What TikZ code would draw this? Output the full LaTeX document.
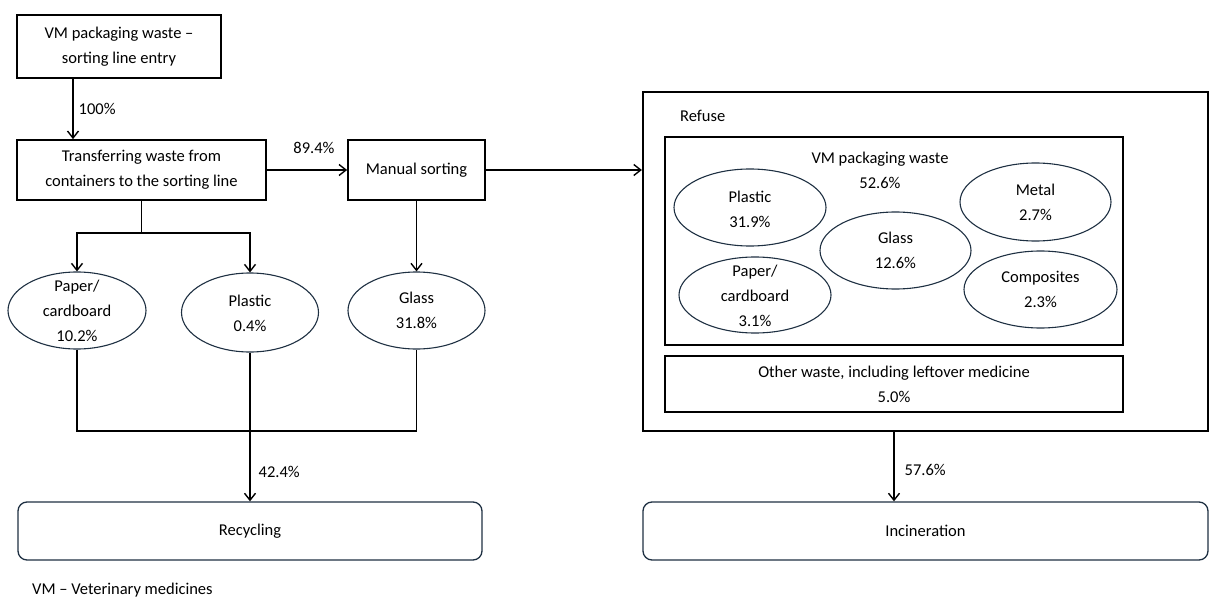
\documentclass[tikz,border=0pt]{standalone}
\usepackage{fontspec}
\setmainfont{Carlito}
\usetikzlibrary{arrows.meta,shapes.geometric,calc}
\definecolor{edgec}{RGB}{30,48,66}
\begin{document}
\begin{tikzpicture}[x=1pt,y=-1pt,
  every node/.style={font=\fontsize{16.5}{25}\selectfont, inner sep=0pt, align=center},
  box/.style={draw=black, line width=1.7pt, rectangle},
  ell/.style={draw=edgec, line width=1.1pt, ellipse},
  rbox/.style={draw=edgec, line width=1.3pt, rectangle, rounded corners=9pt},
  arr/.style={-{Straight Barb[length=7pt,width=11pt,line width=1.4pt]}, line width=1.4pt},
  ln/.style={line width=1.4pt}
]
\useasboundingbox (0,0) rectangle (1211,599);

% left part
\node[box, minimum width=204pt, minimum height=63pt] (b1) at (119,46.5) {VM packaging waste --\\sorting line entry};
\node[box, minimum width=249pt, minimum height=60pt] (b2) at (141.5,170) {Transferring waste from\\containers to the sorting line};
\node[box, minimum width=137pt, minimum height=60pt] (ms) at (416.5,170) {Manual sorting};

\node[ell, minimum width=138pt, minimum height=77pt] (pp) at (77,310.5) {};
\node (ppt) at (pp.center) {Paper/\\cardboard\\10.2\%};
\node[ell, minimum width=137pt, minimum height=79pt] (pl) at (250,312.5) {};
\node (plt) at ([yshift=-1pt]pl.center) {Plastic\\0.4\%};
\node[ell, minimum width=137pt, minimum height=77pt] (gl) at (416.5,310.5) {};
\node (glt) at (gl.center) {Glass\\31.8\%};

\node[rbox, minimum width=464pt, minimum height=58pt] (rec) at (250,531) {Recycling};

% right part
\node[box, line width=2.2pt, minimum width=565pt, minimum height=339pt] (ref) at (925.5,261.5) {};
\node[anchor=west] (reft) at (680,116) {Refuse};
\node[box, line width=1.5pt, minimum width=458pt, minimum height=208pt] (vm) at (894,241) {};
\node (vmt) at (880,170) {VM packaging waste\\52.6\%};
\node[ell, minimum width=152pt, minimum height=77pt] (rpl) at (750,207.5) {};
\node (rplt) at ([yshift=-2pt]rpl.center) {Plastic\\31.9\%};
\node[ell, minimum width=151pt, minimum height=78pt] (rme) at (1035.5,202) {};
\node (rmet) at (rme.center) {Metal\\2.7\%};
\node[ell, minimum width=151pt, minimum height=77pt] (rgl) at (895.5,250.5) {};
\node (rglt) at (rgl.center) {Glass\\12.6\%};
\node[ell, minimum width=152pt, minimum height=76pt] (rpp) at (755,295) {};
\node (rppt) at ([yshift=-1pt]rpp.center) {Paper/\\cardboard\\3.1\%};
\node[ell, minimum width=153pt, minimum height=77pt] (rco) at (1040.5,289.5) {};
\node (rcot) at (rco.center) {Composites\\2.3\%};
\node[box, line width=1.5pt, minimum width=458pt, minimum height=56pt] (oth) at (894,384) {Other waste, including leftover medicine\\5.0\%};

\node[rbox, minimum width=565pt, minimum height=58pt] (inc) at (925.5,531) {Incineration};

% connectors
\draw[arr] ([xshift=-46pt]b1.south) -- ([xshift=-68.5pt]b2.north) node[midway, right=5pt] (l100) {100\%};
\draw[arr] (b2.east) -- (ms.west);
\node (l894) at (314,148) {89.4\%};
\draw[arr] (ms.east) -- (ms.east -| ref.west);
\draw[ln] (b2.south) -- ++(0,32) coordinate (split);
\draw[arr] (split) -| (pp.north);
\draw[arr] (split) -| (pl.north);
\draw[arr] (ms.south) -- (gl.north);
\coordinate (join) at (250,431);
\draw[ln] (pp.south) |- (join) -| (gl.south);
\draw[arr] (pl.south) -- (rec.north) node[pos=0.8, right=8pt] (l424) {42.4\%};
\draw[arr] (ref.south -| vm.center) -- (inc.north -| vm.center) node[midway, right=10pt, yshift=-3pt] (l576) {57.6\%};

\node[anchor=west] (foot) at (32,590) {VM -- Veterinary medicines};
\end{tikzpicture}
\end{document}
